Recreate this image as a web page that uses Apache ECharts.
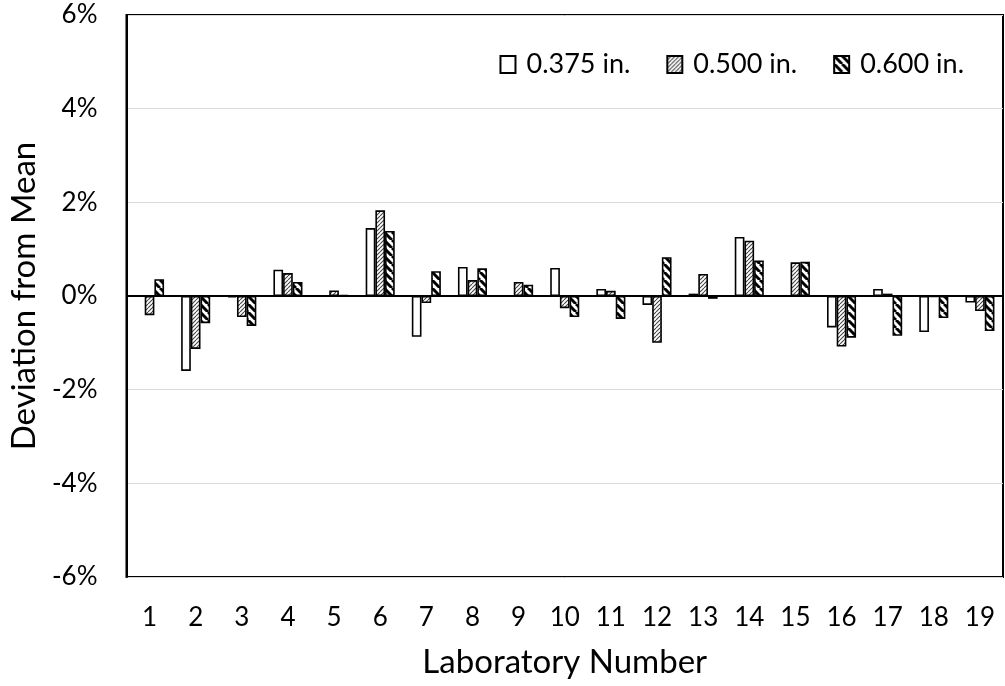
<!DOCTYPE html>
<html>
<head>
<meta charset="utf-8">
<script src="https://cdn.jsdelivr.net/npm/echarts@6/dist/echarts.min.js"></script>
<style>html,body{margin:0;padding:0;background:#fff}#c{width:1005px;height:686px}</style>
</head>
<body>
<div id="c"></div>
<script>
const categories = ['1','2','3','4','5','6','7','8','9','10','11','12','13','14','15','16','17','18','19'];
const s375 = [0, -1.60, -0.03, 0.56, 0.01, 1.45, -0.87, 0.62, 0.01, 0.60, 0.15, -0.19, 0.05, 1.26, 0.01, -0.67, 0.15, -0.77, -0.14];
const s500 = [-0.41, -1.13, -0.45, 0.49, 0.12, 1.83, -0.15, 0.34, 0.30, -0.26, 0.11, -1.00, 0.47, 1.18, 0.72, -1.08, 0.05, -0.02, -0.32];
const s600 = [0.36, -0.58, -0.64, 0.30, 0.02, 1.39, 0.53, 0.59, 0.24, -0.45, -0.49, 0.83, -0.06, 0.76, 0.73, -0.89, -0.85, -0.47, -0.75];
const seriesNames = ['0.375 in.', '0.500 in.', '0.600 in.'];
const yTicks = {min: -6, max: 6, interval: 2};

function hatch(size, lw, color, dir) {
  const c = document.createElement('canvas');
  c.width = size; c.height = size;
  const g = c.getContext('2d');
  g.fillStyle = '#fff'; g.fillRect(0, 0, size, size);
  g.strokeStyle = color; g.lineWidth = lw;
  for (let k = -1; k <= 1; k++) {
    g.beginPath();
    if (dir === '/') { g.moveTo(k*size, size); g.lineTo(k*size + size, 0); }
    else { g.moveTo(k*size, 0); g.lineTo(k*size + size, size); }
    g.stroke();
  }
  return c;
}
const fine = {image: hatch(4, 1.1, '#444', '/'), repeat: 'repeat'};
const wide = {image: hatch(8, 3, '#000', '\\'), repeat: 'repeat'};

const font = 'Lato, "Open Sans", sans-serif';
const chart = echarts.init(document.getElementById('c'));
const base = {type: 'bar', barGap: '0%', barCategoryGap: '37%', animation: false};
chart.setOption({
  animation: false,
  grid: {left: 126, right: 2, top: 15, bottom: 109, show: true, borderColor: '#000', borderWidth: 2},
  legend: {
    top: 46, right: 36, itemWidth: 15, itemHeight: 17, itemGap: 36, icon: 'rect',
    textStyle: {fontFamily: font, fontSize: 27, color: '#000', padding: [0,0,0,6]},
    data: seriesNames
  },
  xAxis: {
    type: 'category', data: categories,
    axisLine: {show: false}, axisTick: {show: false},
    axisLabel: {color: '#000', fontSize: 26, fontFamily: font, margin: 28},
    name: 'Laboratory Number', nameLocation: 'middle', nameGap: 69,
    nameTextStyle: {color: '#000', fontSize: 33, fontFamily: font}
  },
  yAxis: {
    type: 'value', min: yTicks.min, max: yTicks.max, interval: yTicks.interval,
    axisLine: {show: true, lineStyle: {color: '#000', width: 2}},
    axisTick: {show: false},
    splitLine: {lineStyle: {color: '#d9d9d9', width: 1}},
    axisLabel: {color: '#000', fontSize: 26, fontFamily: font, margin: 29, formatter: '{value}%'},
    name: 'Deviation from Mean', nameLocation: 'middle', nameGap: 83,
    nameTextStyle: {color: '#000', fontSize: 33, fontFamily: font}
  },
  series: [
    Object.assign({}, base, {name: seriesNames[0], data: s375,
      itemStyle: {color: '#fff', borderColor: '#000', borderWidth: 1.6},
      markLine: {silent: true, symbol: 'none', label: {show: false},
        lineStyle: {color: '#000', width: 2.2, type: 'solid'}, data: [{yAxis: 0}]}}),
    Object.assign({}, base, {name: seriesNames[1], data: s500,
      itemStyle: {color: fine, borderColor: '#000', borderWidth: 1.6}}),
    Object.assign({}, base, {name: seriesNames[2], data: s600,
      itemStyle: {color: wide, borderColor: '#000', borderWidth: 1.6}})
  ]
});
</script>
</body>
</html>
